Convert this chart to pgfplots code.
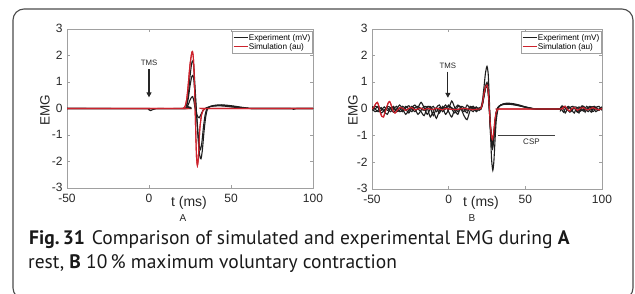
\documentclass[border=0pt]{standalone}
\usepackage{pgfplots}
\pgfplotsset{compat=1.18}
\usepackage{fontspec}
\setmainfont{Liberation Sans}
\newfontfamily\capfont{PT Sans}
\usetikzlibrary{arrows.meta}
\definecolor{simred}{RGB}{205,35,45}
\definecolor{expblk}{RGB}{30,30,30}
\definecolor{axgray}{RGB}{160,160,160}

\pgfplotstableread{
t v
-50 0
20 0
21 0.01
22 0.08
23 0.35
24 0.95
25 1.65
26 2.08
26.5 2.15
27 1.95
27.5 1.35
28 0.3
28.5 -0.9
29 -1.85
29.5 -2.15
30 -1.95
30.5 -1.35
31 -0.75
32 -0.25
33 -0.07
34 -0.01
35 0
100 0
}\simA

\pgfplotstableread{
t v
-50 0
-2 0
-0.5 0
0 -0.05
1 -0.08
2 -0.05
4 -0.01
6 0
22 0
23 0.15
24 0.55
25 1.2
26 1.7
26.7 1.8
27.3 1.6
28 0.9
29 -0.2
30 -1.2
31 -1.8
31.7 -1.9
32.5 -1.6
33.5 -0.9
34.5 -0.35
35.5 -0.05
37 0.07
40 0.12
44 0.14
48 0.12
52 0.09
56 0.05
60 0.02
64 0
100 0
}\expAa

\pgfplotstableread{
t v
-50 0
22 0
23 0.1
24 0.4
25 0.85
26 1.18
26.7 1.25
27.3 1.1
28 0.6
29 -0.2
30 -1.0
30.8 -1.45
31.4 -1.55
32.2 -1.3
33.2 -0.7
34.2 -0.25
35.2 -0.02
37 0.07
40 0.11
44 0.12
48 0.1
52 0.07
56 0.04
60 0.01
64 0
100 0
}\expAb

\pgfplotstableread{
t v
-50 0
22 0
23 0.05
24 0.15
25 0.32
26 0.43
26.6 0.45
27.3 0.3
28 0.05
29 -0.2
30 -0.33
30.6 -0.35
31.5 -0.25
32.5 -0.12
33.5 -0.03
35 0.03
38 0.08
42 0.1
46 0.09
50 0.06
55 0.03
60 0.01
64 0
86 0
88 -0.03
90 0
100 0
}\expAc

\pgfplotstableread{
t v
-50 0.1
-48 0.0
-46 -0.1
-44 -0.05
-42 0.08
-40 -0.05
-38 0.0
-36 0.1
-34 -0.08
-32 0.05
-30 -0.1
-28 0.05
-26 0.12
-24 0.0
-22 -0.1
-20 0.05
-18 0.25
-16 0.05
-14 -0.2
-12 0.0
-10 0.1
-8 -0.1
-6 0.05
-4 0.0
-2 0.15
0 -0.1
2 -0.3
4 0.0
6 0.15
8 0.05
10 -0.1
12 0.15
14 0.0
16 -0.1
18 0.05
20 0.0
21 0.05
22 0.3
23 0.8
24 1.35
25 1.6
25.8 1.3
26.5 0.4
27.2 -0.8
28 -1.9
28.8 -2.3
29.5 -1.95
30.3 -1.1
31 -0.45
32 -0.05
33 0.1
35 0.18
38 0.22
42 0.2
46 0.15
50 0.08
54 0.03
58 0.0
72 0
73 0.05
74 0.12
75 0.0
76 -0.15
77 -0.05
78 0.08
80 0.02
81 -0.1
82 -0.15
83 0.0
85 0.08
86 0.0
88 -0.08
90 0.1
92 -0.05
93 -0.12
94 0.0
96 0.08
98 -0.05
100 0.05
}\expBa

\pgfplotstableread{
t v
-50 -0.05
-48 0.1
-46 0.05
-44 -0.15
-42 -0.05
-40 0.1
-38 0.05
-36 -0.12
-34 0.0
-32 0.15
-30 0.0
-28 -0.2
-26 -0.05
-24 0.1
-22 0.0
-20 -0.2
-18 -0.05
-16 0.1
-14 0.05
-12 -0.3
-10 -0.1
-8 -0.35
-6 -0.05
-4 0.05
-2 -0.2
0 0.0
2 0.3
4 0.05
6 -0.1
8 0.0
10 -0.25
12 -0.4
14 -0.05
16 0.1
18 -0.05
20 0.05
21 0.0
22 0.2
23 0.5
24 0.85
25 1.0
25.8 0.7
26.5 0.0
27.2 -0.8
28 -1.35
28.6 -1.5
29.3 -1.25
30.2 -0.6
31 -0.2
32 0.05
34 0.15
37 0.2
41 0.19
45 0.15
49 0.09
53 0.04
57 0.0
72 0
74 -0.05
75 -0.12
76 0.0
78 0.1
79 0.05
80 -0.08
82 0.05
84 -0.1
85 -0.15
86 -0.02
88 0.1
90 -0.05
92 0.08
94 -0.1
95 -0.05
96 0.05
98 0.1
100 -0.05
}\expBb

\pgfplotstableread{
t v
-50 0.0
-48 -0.1
-46 -0.05
-44 0.05
-42 -0.1
-40 -0.2
-38 0.05
-36 0.05
-34 -0.1
-32 -0.05
-30 0.1
-28 0.0
-26 -0.15
-24 0.05
-22 0.15
-20 0.0
-18 -0.1
-16 -0.25
-14 0.05
-12 0.1
-10 -0.05
-8 0.05
-6 -0.15
-4 0.1
-2 0.0
0 0.15
2 0.0
4 -0.15
6 0.1
8 0.05
10 0.0
12 -0.15
14 0.1
16 0.0
18 0.08
20 -0.05
21 0.0
22 0.15
23 0.45
24 0.75
25 0.88
25.8 0.6
26.5 -0.05
27.2 -0.7
28 -1.2
28.6 -1.35
29.3 -1.15
30.2 -0.55
31 -0.15
32 0.05
34 0.14
37 0.18
41 0.17
45 0.13
49 0.08
53 0.03
57 0.0
72 0
73 -0.05
75 0.08
77 0.0
79 -0.12
80 -0.05
82 0.08
84 0.05
86 -0.08
88 0.0
89 -0.12
90 0.0
92 0.1
94 0.05
96 -0.1
98 0.0
100 0.08
}\expBc

\pgfplotstableread{
t v
-50 0.05
-48 0.0
-46 0.1
-44 0.0
-42 -0.05
-40 0.05
-38 -0.1
-36 0.0
-34 0.1
-32 -0.1
-30 -0.05
-28 0.1
-26 0.0
-24 -0.1
-22 0.05
-20 0.1
-18 0.0
-16 -0.05
-14 0.1
-12 0.05
-10 -0.25
-8 0.05
-6 0.15
-4 -0.1
-2 0.05
0 0.1
2 0.05
4 -0.05
6 -0.2
8 0.1
10 0.05
12 -0.05
14 0.05
16 0.1
18 -0.1
20 0.0
21 0.0
22 0.18
23 0.5
24 0.8
25 0.92
25.8 0.65
26.5 0.05
27.2 -0.55
28 -1.0
28.6 -1.2
29.3 -1.05
30.2 -0.5
31 -0.12
32 0.05
34 0.15
37 0.19
41 0.18
45 0.14
49 0.08
53 0.03
57 0.0
72 0
74 0.08
76 0.1
77 0.0
79 0.05
81 0.1
83 -0.05
84 -0.12
86 0.05
87 0.12
89 0.0
91 -0.1
93 0.05
95 0.1
97 -0.05
99 0.0
100 0.05
}\expBd

\pgfplotstableread{
t v
-50 0.0
-49 0.05
-47.5 0.2
-46.5 0.25
-45.5 0.1
-44.5 -0.15
-43.5 -0.28
-42.5 -0.3
-41.5 -0.12
-40.5 0.05
-39.5 0.22
-38.5 0.28
-37.5 0.15
-36.5 -0.05
-35 -0.15
-33.5 -0.05
-32 0.05
-30 0.03
-28 -0.05
-26 0.02
-24 0.05
-22 -0.03
-20 0.0
-18 0.03
-16 -0.03
-14 0.02
-12 0.0
-10 -0.02
-8 0.03
-6 0.0
-4 -0.03
-2 0.02
0 0.0
5 -0.02
10 0.02
15 -0.02
20 0.0
21 0.02
22 0.2
23 0.55
24 0.82
25 0.9
25.8 0.65
26.5 0.05
27.2 -0.6
28 -1.05
28.6 -1.15
29.3 -0.9
30.2 -0.4
31 -0.12
32 -0.02
34 0
72 0
74 0.03
75 0.08
76 0.1
77 0.02
78 -0.05
79 -0.08
80 0.0
82 0.05
84 -0.05
86 0.03
88 0.05
90 -0.03
92 0.0
94 0.05
96 0.0
98 -0.03
100 0.02
}\simB

\pgfplotsset{
  emgaxis/.style={
    scale only axis,
    xmin=-50, xmax=100, ymin=-3, ymax=3,
    xtick={-50,0,50,100}, ytick={-3,-2,-1,0,1,2,3},
    tick align=inside,
    major tick length=3pt,
    axis line style={draw=axgray, line width=0.6pt},
    every tick/.style={draw=axgray, line width=0.6pt},
    /pgf/number format/assume math mode=true,
    ticklabel style={font=\fontsize{12}{14}\selectfont, text=black!85},
    xticklabel style={yshift=-2.5pt},
    yticklabel style={xshift=-1pt, yshift=0.5pt},
    legend style={at={(1,1)}, anchor=north east, xshift=-1pt, yshift=-2pt,
      draw=axgray, font=\fontsize{8.2}{9.5}\selectfont, inner xsep=1pt, inner ysep=1.5pt,
      row sep=-1.5pt, legend cell align=left,
      nodes={inner xsep=0.5pt, inner ysep=1.5pt}},
    legend image code/.code={\draw[##1] (0pt,0pt) -- (14pt,0pt);},
  },
  expline/.style={expblk, line width=1.1pt, smooth, tension=0.4, no marks},
  simline/.style={simred, line width=1.1pt, smooth, tension=0.4, no marks},
}

\begin{document}
\begin{tikzpicture}
\useasboundingbox (0pt,0pt) rectangle (635pt,293pt);
\draw[black!70, line width=1.1pt, rounded corners=11pt] (13pt,-6pt) rectangle (633pt,284pt);

% Panel A
\begin{axis}[emgaxis, at={(67pt,105pt)}, anchor=south west, width=246pt, height=159pt]
\addplot[expline] table[x=t,y=v] {\expAa};
\addlegendentry{Experiment (mV)}
\addplot[simline] table[x=t,y=v] {\simA};
\addlegendentry{Simulation (au)}
\addplot[expline, forget plot] table[x=t,y=v] {\expAb};
\addplot[expline, forget plot] table[x=t,y=v] {\expAc};
\addplot[simline, forget plot] table[x=t,y=v] {\simA};
\draw[-{Triangle[length=5pt,width=5pt]}, line width=1.1pt, black!85] (axis cs:0,1.48) -- (axis cs:0,0.42);
\node[font=\fontsize{7.8}{9}\selectfont, text=black!85] at (axis cs:0,1.72) {TMS};
\end{axis}

% Panel B
\begin{axis}[emgaxis, at={(372pt,104pt)}, anchor=south west, width=230pt, height=160pt]
\addplot[expline] table[x=t,y=v] {\expBa};
\addlegendentry{Experiment (mV)}
\addplot[simline] table[x=t,y=v] {\simB};
\addlegendentry{Simulation (au)}
\addplot[expline, forget plot] table[x=t,y=v] {\expBb};
\addplot[expline, forget plot] table[x=t,y=v] {\expBc};
\addplot[expline, forget plot] table[x=t,y=v] {\expBd};
\addplot[simline, forget plot] table[x=t,y=v] {\simB};
\draw[-{Triangle[length=5pt,width=5pt]}, line width=1.1pt, black!85] (axis cs:-0.5,1.4) -- (axis cs:-0.5,0.42);
\node[font=\fontsize{7.8}{9}\selectfont, text=black!85] at (axis cs:-0.5,1.63) {TMS};
\draw[black!75, line width=0.8pt] (axis cs:32,-1) -- (axis cs:69.5,-1);
\node[font=\fontsize{8}{9}\selectfont, text=black!85] at (axis cs:54,-1.22) {CSP};
\end{axis}

% axis labels
\node[rotate=90, font=\fontsize{13.5}{16}\selectfont, text=black!85] at (45pt,183pt) {EMG};
\node[rotate=90, font=\fontsize{13.5}{16}\selectfont, text=black!85] at (353pt,183pt) {EMG};
\node[font=\fontsize{14}{16}\selectfont, text=black!85] at (189pt,90pt) {t (ms)};
\node[font=\fontsize{14}{16}\selectfont, text=black!85] at (481pt,90pt) {t (ms)};
\node[font=\fontsize{10}{12}\selectfont, text=black!85] at (183pt,75pt) {A};
\node[font=\fontsize{10}{12}\selectfont, text=black!85] at (472pt,75pt) {B};

% caption
\node[anchor=base west, inner sep=0pt, font=\capfont\fontsize{19.5}{22}\selectfont, text=black!90] at (29pt,49pt)
  {\textbf{Fig.\,31}\hspace{7pt}Comparison of simulated and experimental EMG during \textbf{A}};
\node[anchor=base west, inner sep=0pt, font=\capfont\fontsize{19.5}{22}\selectfont, text=black!90] at (28pt,25pt)
  {rest, \textbf{B} 10\,\% maximum voluntary contraction};
\end{tikzpicture}
\end{document}
